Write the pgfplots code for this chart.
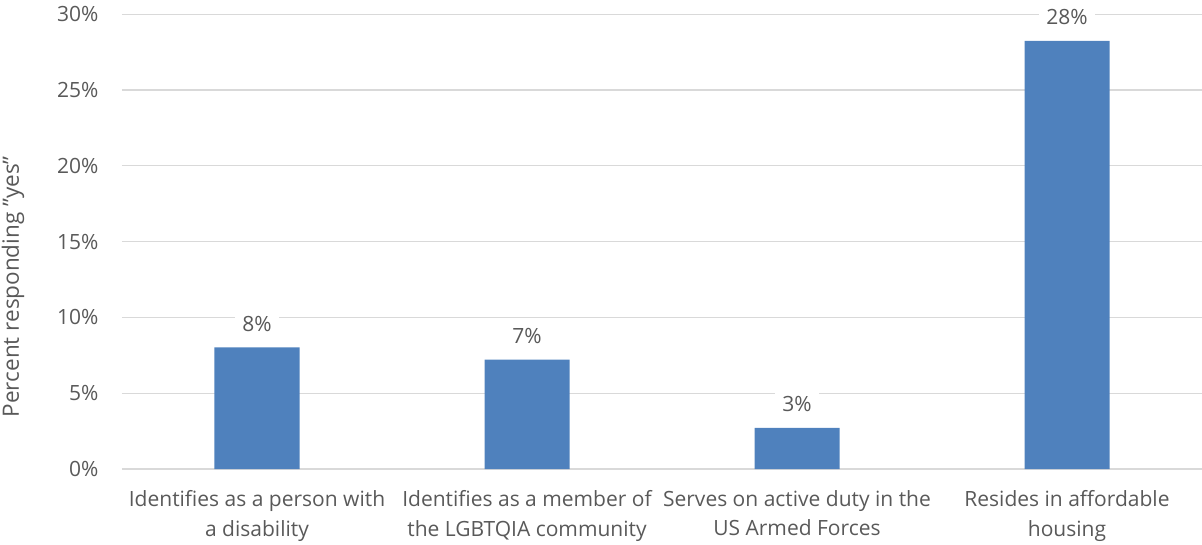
\documentclass[border=0pt]{standalone}
\usepackage{pgfplots}
\pgfplotsset{compat=1.18}
\usepackage{fontspec}
\setmainfont{Open Sans}
\definecolor{barblue}{HTML}{4F81BD}
\definecolor{gridgray}{HTML}{D9D9D9}
\definecolor{textgray}{HTML}{595959}
\begin{document}
\begin{tikzpicture}
\begin{axis}[
  scale only axis,
  width=1080bp, height=454.7bp,
  xmin=-0.5, xmax=3.5,
  ymin=0, ymax=30,
  ybar, bar width=85bp,
  axis line style={draw=none},
  major tick length=0pt,
  ymajorgrids,
  major grid style={gridgray, line width=1.2bp},
  ytick={0,5,10,15,20,25,30},
  yticklabels={0\%,5\%,10\%,15\%,20\%,25\%,30\%},
  yticklabel style={font=\fontsize{21bp}{25bp}\selectfont, text=textgray, xshift=-20bp},
  xtick={0,1,2,3},
  xticklabels={Identifies as a person with\\a disability, Identifies as a member of\\the LGBTQIA community, Serves on active duty in the\\US Armed Forces, Resides in affordable\\housing},
  xticklabel style={font=\fontsize{21bp}{29.5bp}\selectfont, text=textgray, align=center, yshift=-18bp},
  ylabel={Percent responding \char34 yes\char34},
  ylabel style={at={(axis description cs:-0.1008,0.401)}, anchor=center, font=\fontsize{22.5bp}{26bp}\selectfont, text=textgray},
  nodes near coords={\pgfmathprintnumber[fixed,precision=0]{\pgfplotspointmeta}\%},
  /pgf/number format/assume math mode=true,
  every node near coord/.append style={font=\fontsize{21bp}{25bp}\selectfont, text=textgray, fill=white, inner xsep=7bp, inner ysep=3bp, yshift=13bp},
  clip=false,
]
\addplot[fill=barblue, draw=none] coordinates {(0,8.02) (1,7.22) (2,2.72) (3,28.25)};
\end{axis}
\pgfresetboundingbox
\path[use as bounding box] (-122bp,-76bp) rectangle (1080bp,469bp);
\end{tikzpicture}
\end{document}
